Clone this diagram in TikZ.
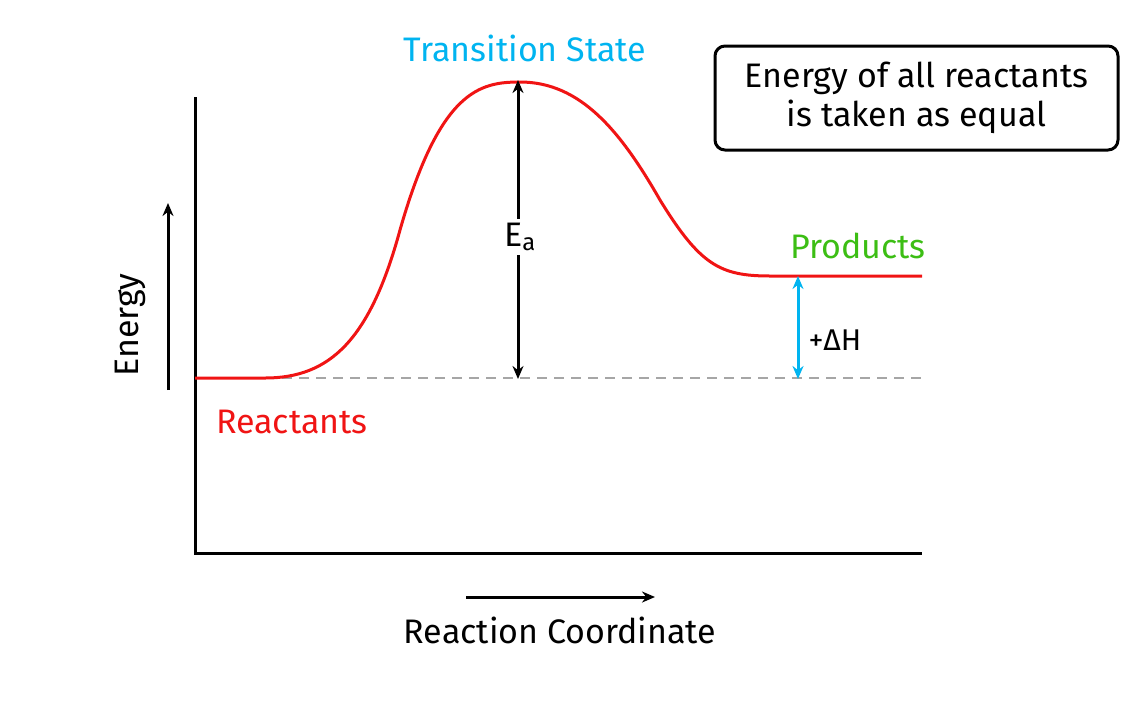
\documentclass[tikz,border=0pt]{standalone}
\usepackage{fontspec}
\setmainfont{Fira Sans}
\usetikzlibrary{arrows.meta}
\definecolor{cyanc}{RGB}{0,180,240}
\definecolor{greenc}{RGB}{60,190,20}
\definecolor{redc}{RGB}{240,20,20}
\tikzset{lbl/.style={font=\fontsize{34}{39}\selectfont},
 arr/.style={line width=3pt,-{Stealth[length=13pt,width=11pt]}},
 darr/.style={line width=3pt,{Stealth[length=13pt,width=11pt]}-{Stealth[length=13pt,width=11pt]}}}
\begin{document}
\begin{tikzpicture}[x=1pt,y=-1pt]
\useasboundingbox (0,0) rectangle (1141,705);
\coordinate (top) at (195,97); \coordinate (org) at (195,553); \coordinate (xend) at (922,553);
\draw[line width=3pt] (top) -- (org) -- (xend);
\coordinate (e1) at (168,390); \coordinate (e2) at (168,203);
\draw[arr] (e1) -- (e2);
\node[lbl,rotate=90] (en) at (130,325) {Energy};
\coordinate (r1) at (466,597); \coordinate (r2) at (655,597);
\draw[arr] (r1) -- (r2);
\node[lbl] (rc) at (560,630) {Reaction Coordinate};
\coordinate (d1) at (265,378); \coordinate (d2) at (922,378);
\draw[gray!70,line width=2pt,dash pattern=on 10pt off 7pt] (d1) -- (d2);
\draw[redc,line width=3pt] (195,378) -- (265,378) .. controls (330,378) and (370,340) .. (400,230)
 .. controls (440,90) and (480,82) .. (520,82) .. controls (580,82) and (620,130) .. (660,200)
 .. controls (700,265) and (720,276) .. (770,276) -- (922,276);
\coordinate (p) at (518,80); \coordinate (q) at (518,379);
\draw[darr] (p) -- (q);
\node[lbl,fill=white,inner sep=4pt] (ea) at (520,237) {E\textsubscript{a}};
\coordinate (h1) at (798,276); \coordinate (h2) at (798,379);
\draw[darr,cyanc] (h1) -- (h2);
\node[font=\fontsize{30}{34}\selectfont] (dh) at (835,340) {+ΔH};
\node[lbl,text=cyanc] (ts) at (525,48) {Transition State};
\node[lbl,text=greenc] (pr) at (858,246) {Products};
\node[lbl,text=redc] (re) at (292,422) {Reactants};
\node[lbl,draw,line width=3pt,rounded corners=10pt,minimum width=403pt,minimum height=104pt,align=center] (box) at (916.5,98) {Energy of all reactants\\[0pt]is taken as equal};
\end{tikzpicture}
\end{document}
